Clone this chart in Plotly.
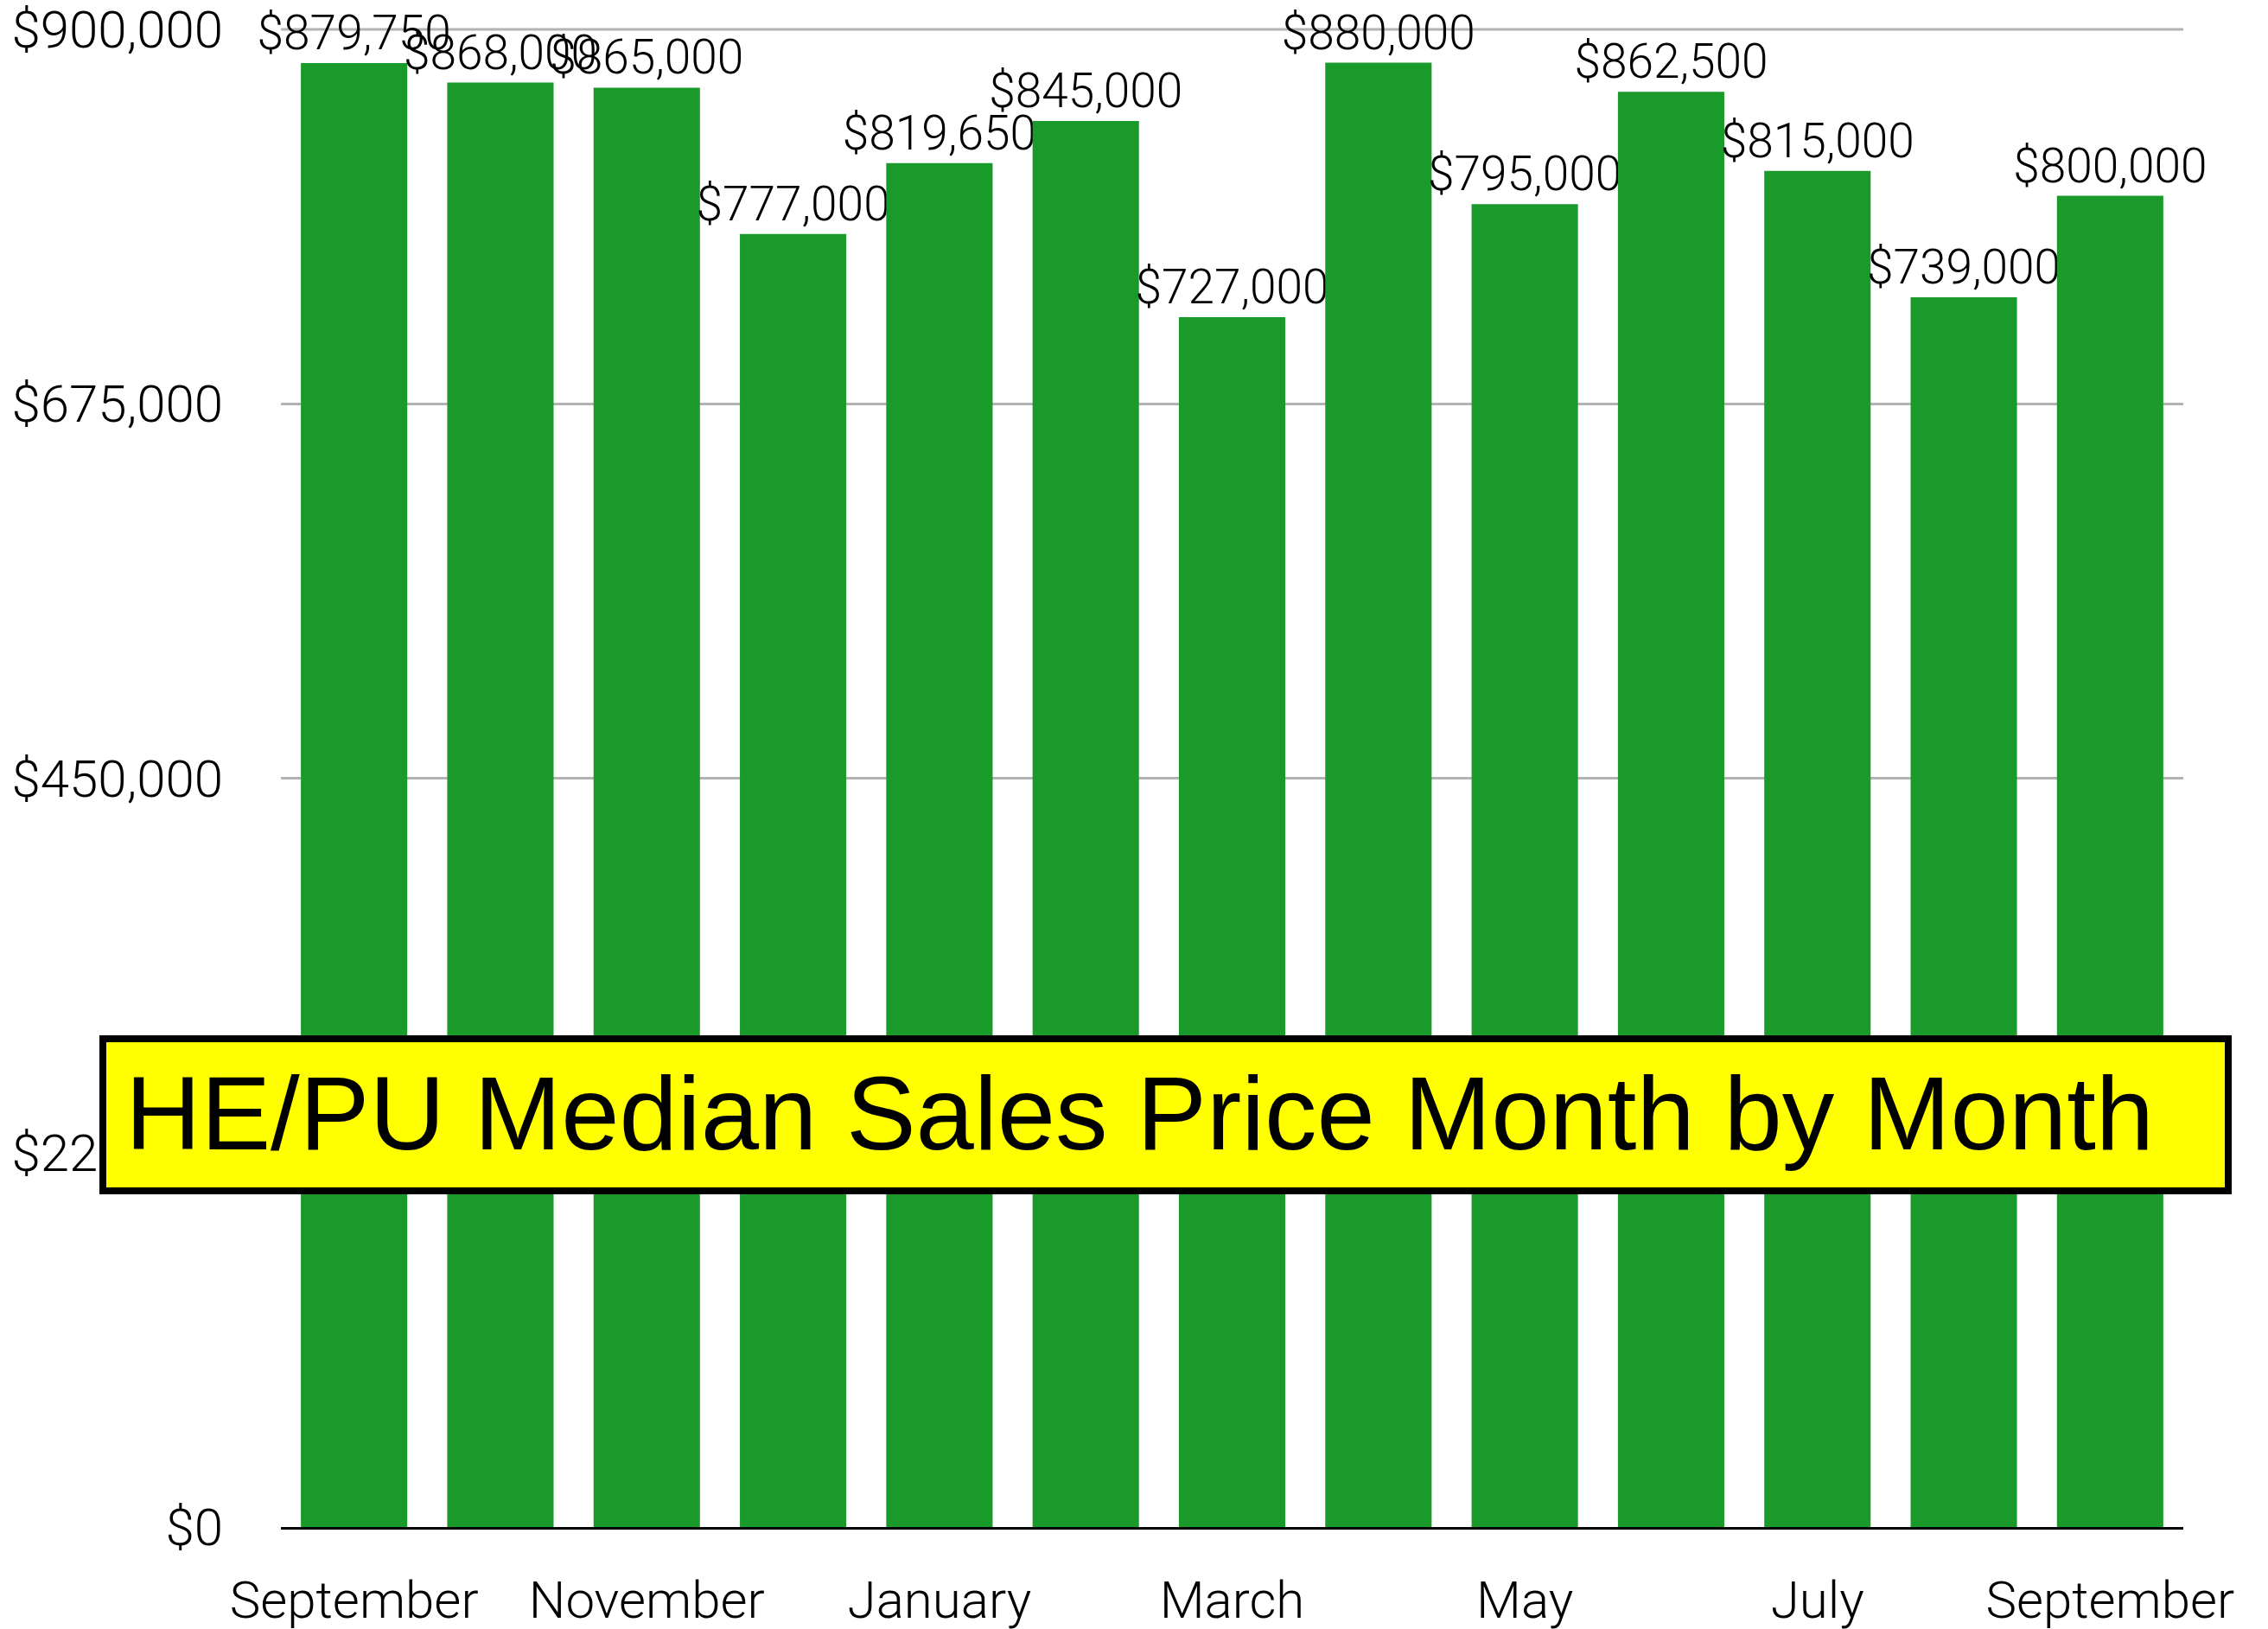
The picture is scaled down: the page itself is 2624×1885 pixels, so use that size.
import plotly.graph_objects as go

months = ["September", "October", "November", "December", "January", "February",
          "March", "April", "May", "June", "July", "August", "September"]
prices = [879750, 868000, 865000, 777000, 819650, 845000, 727000,
          880000, 795000, 862500, 815000, 739000, 800000]
y_ticks = [0, 225000, 450000, 675000, 900000]
title_text = "HE/PU Median Sales Price Month by Month"

W, H = 2624, 1885
L, R, T, B = 325, 98, 34, 118
pw, ph = W - L - R, H - T - B

def px_x(p):
    return (p - L) / pw

def px_y(p):
    return (H - B - p) / ph

idx = list(range(len(months)))
labels = ["${:,.0f}".format(v) for v in prices]

light = dict(family="Roboto", size=60, color="black", weight=300)

fig = go.Figure(go.Bar(
    x=idx, y=prices,
    marker=dict(color="#1b9a2c", line=dict(width=0)),
    text=labels, textposition="outside", constraintext="none",
    textfont=dict(family="Roboto", size=55, color="black", weight=300),
    cliponaxis=False,
))

fig.update_layout(
    width=W, height=H,
    margin=dict(l=L, r=R, t=T, b=B, autoexpand=False),
    paper_bgcolor="white", plot_bgcolor="white",
    bargap=0.273, showlegend=False,
)
fig.update_xaxes(
    range=[-0.5, len(months) - 0.5],
    tickvals=idx[::2], ticktext=months[::2],
    tickfont=light, ticks="", ticklabelstandoff=30,
    ticklabeloverflow="allow",
    showgrid=False, showline=True, linecolor="black", linewidth=3,
    zeroline=False,
)
fig.update_yaxes(
    range=[0, y_ticks[-1]], tickvals=y_ticks, tickformat="$,.0f",
    tickfont=light, ticks="", ticklabelstandoff=66,
    ticklabeloverflow="allow",
    showgrid=True, gridcolor="#b3b3b3", gridwidth=2.5,
    zeroline=False, showline=False,
)

# top gridline (plotly omits the grid line at the range edge)
fig.add_shape(type="line", xref="paper", yref="paper", x0=0, x1=1,
              y0=1, y1=1,
              line=dict(color="#b3b3b3", width=3), layer="below")

# Title box
fig.add_shape(type="rect", xref="paper", yref="paper",
              x0=px_x(119), x1=px_x(2578), y0=px_y(1378), y1=px_y(1202),
              fillcolor="#ffff00", line=dict(color="black", width=8),
              layer="above")
fig.add_annotation(xref="paper", yref="paper",
                   x=px_x(143), y=px_y(1288), xanchor="left", yanchor="middle",
                   text=title_text, showarrow=False,
                   font=dict(family="Liberation Sans", size=121, color="black"))

fig.write_html("out.html", config={"displayModeBar": False},
               post_script="document.body.style.margin='0';document.body.style.overflow='hidden';")
